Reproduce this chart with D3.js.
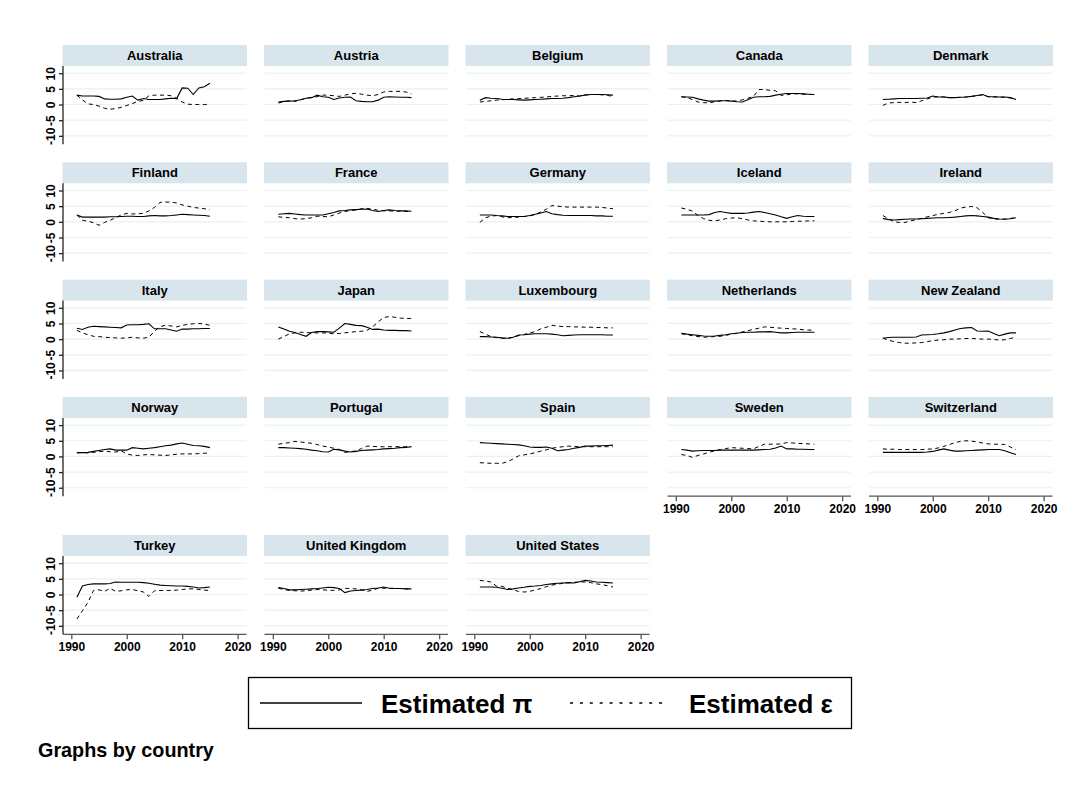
<!DOCTYPE html>
<html><head><meta charset="utf-8">
<script src="https://cdn.jsdelivr.net/npm/d3@7"></script>
<style>body{margin:0;background:#fff} text{font-family:"Liberation Sans",Arial,sans-serif}</style>
</head><body><svg id="c" width="1065" height="787"></svg>
<script>
const countries = ["Australia","Austria","Belgium","Canada","Denmark","Finland","France","Germany","Iceland","Ireland","Italy","Japan","Luxembourg","Netherlands","New Zealand","Norway","Portugal","Spain","Sweden","Switzerland","Turkey","United Kingdom","United States"];
const years = [1991,1992,1993,1994,1995,1996,1997,1998,1999,2000,2001,2002,2003,2004,2005,2006,2007,2008,2009,2010,2011,2012,2013,2014,2015];
const piValues = [
 [3.0,2.7,2.7,2.7,2.6,1.8,1.7,1.7,1.8,2.3,2.7,1.4,1.9,1.6,1.6,1.6,1.8,2.0,1.9,5.3,5.2,3.2,5.3,5.7,6.8],
 [0.8,1.0,1.1,1.2,1.5,2.0,2.2,3.0,2.5,2.3,1.6,2.1,2.3,2.4,1.2,1.0,0.9,0.9,1.4,2.3,2.5,2.4,2.3,2.3,2.2],
 [1.4,2.2,2.0,1.9,1.7,1.6,1.6,1.5,1.4,1.5,1.6,1.7,1.8,1.9,1.9,2.0,2.2,2.5,2.7,3.0,3.2,3.2,3.2,3.1,3.0],
 [2.5,2.4,2.3,1.8,1.4,1.1,1.1,1.2,1.2,1.1,0.9,0.8,1.5,2.3,2.5,2.5,2.6,3.0,3.3,3.5,3.5,3.5,3.4,3.3,3.2],
 [1.6,1.7,1.8,1.9,1.9,1.9,1.9,2.0,2.1,2.7,2.4,2.4,2.2,2.2,2.3,2.4,2.6,2.9,3.2,2.5,2.5,2.4,2.4,2.2,1.6],
 [2.2,1.5,1.5,1.5,1.5,1.5,1.6,1.6,1.7,1.8,1.8,1.7,1.7,1.9,2.0,1.9,1.9,2.0,2.2,2.4,2.3,2.2,2.1,2.0,1.8],
 [2.4,2.6,2.7,2.5,2.3,2.2,2.2,2.2,2.2,2.6,3.0,3.5,3.6,3.8,3.9,4.0,4.1,3.6,3.3,3.6,3.8,3.6,3.5,3.5,3.4],
 [2.2,2.2,2.2,2.0,1.9,1.7,1.7,1.7,1.7,2.0,2.4,2.8,3.3,2.6,2.3,2.1,2.0,2.0,2.0,2.0,2.0,1.9,1.9,1.8,1.8],
 [2.2,2.2,2.2,2.2,2.2,2.3,3.0,3.3,3.0,2.7,2.7,2.7,2.8,3.1,3.3,3.0,2.6,2.2,1.6,1.1,1.6,2.0,1.8,1.7,1.7],
 [1.1,0.7,0.6,0.7,0.8,0.9,0.9,1.0,1.1,1.2,1.3,1.3,1.4,1.5,1.7,1.9,2.0,1.9,1.7,1.5,1.1,0.9,0.8,1.0,1.3],
 [3.5,3.1,3.8,4.1,4.0,3.9,3.8,3.7,3.6,4.5,4.6,4.6,4.7,4.9,3.3,3.3,3.3,2.9,2.5,3.2,3.2,3.3,3.3,3.4,3.4],
 [3.9,3.2,2.5,2.1,1.5,0.9,2.1,2.4,2.4,2.3,2.2,3.5,5.0,4.7,4.4,4.3,3.8,3.1,3.2,2.9,2.8,2.8,2.7,2.7,2.6],
 [0.8,0.8,0.7,0.6,0.4,0.3,0.6,1.3,1.4,1.6,1.7,1.7,1.7,1.6,1.4,1.1,1.2,1.3,1.4,1.4,1.4,1.4,1.4,1.3,1.3],
 [1.9,1.6,1.4,1.2,1.0,0.9,1.0,1.2,1.4,1.7,1.9,2.1,2.2,2.2,2.3,2.3,2.4,2.2,2.0,2.0,2.1,2.2,2.2,2.2,2.2],
 [0.3,0.5,0.6,0.6,0.6,0.6,0.7,1.3,1.4,1.5,1.7,2.0,2.4,2.9,3.4,3.6,3.7,2.6,2.5,2.6,1.8,1.1,1.6,2.0,2.0],
 [1.1,1.2,1.3,1.6,1.9,2.2,2.4,2.0,2.0,2.0,2.8,2.6,2.4,2.6,2.8,3.1,3.4,3.6,4.0,4.3,3.9,3.5,3.4,3.2,2.8],
 [2.8,2.8,2.7,2.6,2.5,2.3,2.0,1.8,1.5,1.4,2.3,2.1,1.7,1.4,1.6,1.9,2.0,2.1,2.2,2.4,2.5,2.6,2.8,2.9,3.1],
 [4.4,4.3,4.2,4.1,4.0,3.9,3.8,3.7,3.4,3.0,2.9,2.9,3.0,2.6,1.8,2.0,2.2,2.6,2.9,3.3,3.3,3.4,3.4,3.5,3.6],
 [2.2,2.0,1.7,1.8,1.9,1.9,1.9,2.0,2.0,2.0,2.0,2.0,2.0,2.0,2.1,2.2,2.3,2.7,3.3,2.4,2.4,2.3,2.3,2.2,2.2],
 [1.3,1.3,1.3,1.3,1.3,1.3,1.3,1.3,1.4,1.6,2.0,2.4,2.0,1.7,1.7,1.8,1.9,2.0,2.1,2.2,2.2,2.2,1.8,1.2,0.6],
 [-0.9,2.7,3.2,3.4,3.4,3.4,3.5,4.0,3.9,3.9,3.9,3.9,3.8,3.6,3.3,3.0,2.9,2.8,2.7,2.7,2.6,2.4,2.1,2.2,2.4],
 [2.2,1.9,1.5,1.5,1.6,1.7,1.8,1.9,2.1,2.3,2.2,1.9,0.6,1.1,1.3,1.4,1.6,1.9,2.1,2.4,2.0,1.9,1.9,1.8,1.8],
 [2.4,2.4,2.4,2.3,2.0,1.6,1.8,2.1,2.3,2.6,2.7,2.9,3.2,3.4,3.6,3.7,3.8,3.7,4.1,4.5,4.3,4.0,3.9,3.8,3.7]
];
const epsValues = [
 [3.0,1.5,0.2,0.0,-0.5,-1.2,-1.5,-1.3,-0.9,-0.3,0.3,1.0,1.3,2.8,3.0,3.0,3.0,2.8,2.0,0.8,0.1,0.0,0.0,0.0,0.1],
 [0.5,0.9,1.2,1.0,1.5,2.0,2.3,2.5,3.0,3.0,2.8,2.6,3.0,3.4,3.6,3.3,3.0,2.8,3.2,4.0,4.2,4.2,4.2,4.0,3.4],
 [0.8,1.0,1.2,1.4,1.5,1.7,1.8,1.9,2.0,2.1,2.2,2.3,2.4,2.6,2.7,2.8,2.8,2.9,2.7,3.1,3.2,3.2,3.1,2.9,2.6],
 [2.5,2.2,1.6,0.8,0.6,0.5,0.9,1.1,1.3,1.2,1.1,1.5,2.0,2.6,4.8,4.8,4.5,4.4,2.9,3.1,3.4,3.4,3.3,3.2,3.2],
 [-0.3,0.5,0.6,0.7,0.6,0.8,0.6,1.2,1.8,2.3,2.5,2.4,2.2,2.2,2.3,2.4,2.6,2.8,3.1,2.5,2.4,2.4,2.3,2.1,1.7],
 [2.2,0.5,0.2,-0.3,-1.1,-0.2,0.5,1.3,2.2,2.7,2.5,2.6,2.7,3.5,4.6,6.2,6.3,6.3,6.0,5.4,5.0,4.6,4.4,4.2,3.8],
 [1.6,1.4,1.3,1.0,0.9,1.0,1.3,1.8,1.7,1.6,2.2,2.8,3.3,3.6,3.8,4.2,4.3,4.0,3.7,3.5,3.5,3.4,3.4,3.3,3.3],
 [-0.2,1.3,1.8,2.0,1.6,1.3,1.4,1.5,1.7,1.9,2.3,3.2,4.0,5.2,5.0,4.8,4.7,4.7,4.7,4.7,4.7,4.7,4.6,4.4,4.2],
 [4.4,4.0,3.4,2.0,1.0,0.5,0.3,0.6,1.0,1.2,1.3,1.0,0.6,0.3,0.2,0.1,0.0,0.0,0.0,0.0,0.1,0.2,0.2,0.3,0.3],
 [2.0,1.0,0.0,-0.2,-0.2,0.3,0.7,1.1,1.6,2.0,2.4,2.7,3.0,3.5,4.4,4.7,4.9,4.5,3.0,1.3,1.0,0.8,0.9,1.1,1.3],
 [2.8,2.0,1.4,0.9,0.8,0.6,0.5,0.4,0.3,0.4,0.6,0.4,0.3,0.6,2.5,4.0,4.4,4.2,3.9,4.4,4.7,4.9,5.0,4.8,4.4],
 [0.0,0.8,1.7,2.0,2.2,2.1,2.0,2.0,2.0,1.9,1.7,1.8,2.0,2.2,2.4,2.5,2.8,3.9,5.5,6.9,7.2,7.0,6.7,6.6,6.6],
 [2.4,1.6,0.8,0.5,0.3,0.2,0.6,1.1,1.5,2.0,2.4,3.3,3.8,4.4,4.2,4.0,4.0,3.9,3.9,3.8,3.8,3.7,3.7,3.6,3.6],
 [1.7,1.4,1.1,0.8,0.6,0.7,0.8,0.9,1.2,1.6,1.9,2.3,2.7,3.1,3.5,3.9,3.8,3.6,3.5,3.4,3.3,3.2,3.0,2.9,2.8],
 [0.3,-0.3,-0.8,-1.1,-1.3,-1.3,-1.2,-1.1,-0.8,-0.5,-0.3,-0.2,0.0,0.0,0.1,0.2,0.2,0.1,0.0,0.0,-0.1,-0.3,-0.2,0.2,0.6],
 [1.3,1.2,1.1,1.3,1.5,1.7,1.5,1.4,1.8,0.8,0.4,0.3,0.5,0.6,0.5,0.4,0.3,0.5,0.7,0.8,0.8,0.8,0.9,1.0,1.1],
 [3.9,4.2,4.4,4.8,4.6,4.4,4.2,3.8,3.3,3.0,2.6,2.2,1.3,1.5,1.8,2.5,3.3,3.2,3.1,3.1,3.1,3.1,3.1,3.1,3.1],
 [-2.0,-2.1,-2.2,-2.2,-2.2,-1.7,-0.8,0.2,0.5,0.8,1.2,1.7,2.1,2.6,2.9,3.1,3.3,3.2,3.1,3.1,3.1,3.1,3.1,3.1,3.1],
 [0.6,0.3,-0.3,0.3,0.8,1.3,1.8,2.2,2.5,2.8,2.7,2.6,2.5,2.4,3.2,3.9,3.9,3.9,4.0,4.4,4.3,4.2,4.1,4.0,3.9],
 [2.4,2.3,2.3,2.2,2.2,2.2,2.2,2.2,2.3,2.4,2.7,3.2,3.8,4.4,4.8,5.0,4.9,4.6,4.3,4.0,3.9,3.9,3.8,3.0,2.2],
 [-7.8,-5.2,-2.5,1.3,1.5,1.0,2.0,1.0,1.2,1.5,1.6,1.2,0.8,-0.6,1.2,1.3,1.3,1.3,1.4,1.6,1.8,1.8,1.6,1.4,1.3],
 [2.0,1.6,1.3,1.2,1.1,1.2,1.4,1.6,1.5,1.4,1.3,1.5,2.0,1.9,1.8,1.6,1.0,1.4,2.0,2.0,2.0,2.0,1.9,1.8,1.8],
 [4.5,4.3,4.0,2.7,2.6,2.0,1.5,1.0,0.8,1.0,1.5,1.9,2.5,3.0,3.3,3.6,3.8,3.9,4.0,4.0,3.8,3.4,3.2,2.8,2.4]
];
const xTicks = [1990,2000,2010,2020];
const yTicks = [-10,-5,0,5,10];
const legendLabels = ["Estimated \u03c0","Estimated \u03b5"];
const noteText = "Graphs by country";

const W = 1065, H = 787;
const svg = d3.select("#c");
svg.append("rect").attr("width", W).attr("height", H).attr("fill", "#fff");

const ncol = 5, colX0 = 63, colStep = 201.5, panelW = 183.5;
const rowT = [45, 162.3, 279.6, 396.9, 535];
const headH = 21, plotBot = 99.3;
const x = d3.scaleLinear().domain([1988.5, 2021.6]).range([0, panelW]);
const y = d3.scaleLinear().domain([-12.7, 12.3]).range([plotBot, headH]);
const line = d3.line().x((d, i) => x(years[i])).y(d => y(d));
const font = '"Liberation Sans", Arial, sans-serif';
const plainNum = d => String(d);

countries.forEach((name, k) => {
  const r = Math.floor(k / ncol), c = k % ncol;
  const L = colX0 + c * colStep, T = rowT[r];
  const g = svg.append("g").attr("transform", `translate(${L},${T})`);
  // header strip
  g.append("rect").attr("x", -0.5).attr("y", 0).attr("width", panelW + 1).attr("height", headH).attr("fill", "#d9e5ec");
  g.append("text").attr("x", panelW / 2).attr("y", 15).attr("text-anchor", "middle")
    .attr("font-size", 13).attr("font-weight", "bold").attr("fill", "#000").text(name);
  // gridlines
  g.selectAll("line.grid").data(yTicks).enter().append("line").attr("class", "grid")
    .attr("x1", 0).attr("x2", panelW).attr("y1", d => y(d)).attr("y2", d => y(d))
    .attr("stroke", "#e9f1f3").attr("stroke-width", 1.2);
  // y axis on first column
  if (c === 0) {
    const ya = g.append("g").call(d3.axisLeft(y).tickValues(yTicks).tickSize(4).tickFormat(plainNum));
    ya.select(".domain").attr("d", `M0,${headH}V${plotBot}`).attr("stroke", "#222").attr("stroke-width", 1.3);
    ya.selectAll(".tick line").attr("stroke", "#222").attr("stroke-width", 1.3);
    ya.selectAll(".tick text").attr("font-family", font).attr("font-weight", "bold").attr("font-size", 12)
      .attr("fill", "#000").attr("x", null).attr("dy", null)
      .attr("transform", "translate(-12,0) rotate(-90)").attr("text-anchor", "middle").attr("dominant-baseline", "central");
  }
  // x axis on the last panel in each column
  const lastInCol = (k + ncol >= countries.length);
  if (lastInCol) {
    const xa = g.append("g").attr("transform", `translate(0,${plotBot})`)
      .call(d3.axisBottom(x).tickValues(xTicks).tickSize(5).tickFormat(plainNum));
    xa.select(".domain").attr("d", `M0,0H${panelW}`).attr("stroke", "#555").attr("stroke-width", 1.3);
    xa.selectAll(".tick line").attr("stroke", "#555").attr("stroke-width", 1.3);
    xa.selectAll(".tick text").attr("font-family", font).attr("font-weight", "bold").attr("font-size", 12)
      .attr("fill", "#000").attr("y", 8);
  }
  // series
  g.append("path").datum(epsValues[k]).attr("d", line).attr("fill", "none")
    .attr("stroke", "#000").attr("stroke-width", 1).attr("stroke-dasharray", "4,3.5");
  g.append("path").datum(piValues[k]).attr("d", line).attr("fill", "none")
    .attr("stroke", "#000").attr("stroke-width", 1.1);
});

// legend
const lg = svg.append("g");
lg.append("rect").attr("x", 248.5).attr("y", 677.5).attr("width", 603).attr("height", 51)
  .attr("fill", "#fff").attr("stroke", "#000").attr("stroke-width", 1.3);
lg.append("line").attr("x1", 260).attr("x2", 362).attr("y1", 703).attr("y2", 703)
  .attr("stroke", "#000").attr("stroke-width", 1.6);
lg.append("text").attr("x", 381).attr("y", 713).attr("font-size", 26).attr("font-weight", "bold").text(legendLabels[0]);
lg.append("line").attr("x1", 570).attr("x2", 669).attr("y1", 703).attr("y2", 703)
  .attr("stroke", "#000").attr("stroke-width", 1.6).attr("stroke-dasharray", "3,6.9");
lg.append("text").attr("x", 689).attr("y", 713).attr("font-size", 26).attr("font-weight", "bold").text(legendLabels[1]);

svg.append("text").attr("x", 38).attr("y", 757).attr("font-size", 19.8).attr("font-weight", "bold").text(noteText);
</script></body></html>
